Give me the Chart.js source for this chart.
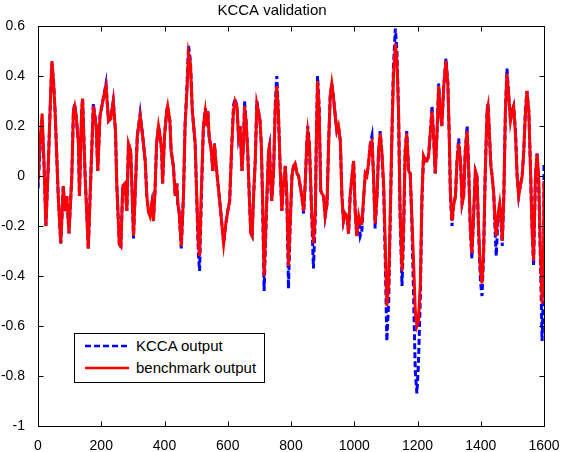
<!DOCTYPE html>
<html>
<head>
<meta charset="utf-8">
<title>KCCA validation</title>
<script src="https://cdn.jsdelivr.net/npm/chart.js@4.4.1/dist/chart.umd.min.js"></script>
<style>
  body { margin: 0; background: #fff; }
  #wrap { position: relative; width: 579px; height: 452px; }
  .legend {
    position: absolute; left: 74px; top: 333px; width: 189px; height: 48px;
    border: 1px solid #000; background: #fff;
    font-family: 'Liberation Sans', Arial, sans-serif; font-size: 15px; color: #000;
  }
  .legend svg { position: absolute; left: 10px; }
  .legend span { position: absolute; left: 61px; line-height: 18px; }
</style>
</head>
<body>
<div id="wrap">
  <canvas id="chart" width="579" height="452"></canvas>
  <div class="legend">
    <svg style="top:8px" width="44" height="8"><line x1="0" y1="4" x2="44" y2="4" stroke="#0000ff" stroke-width="2.5" stroke-dasharray="6,3"/></svg>
    <span style="top:3px">KCCA output</span>
    <svg style="top:30px" width="44" height="8"><line x1="0" y1="4" x2="44" y2="4" stroke="#ff0000" stroke-width="2.5"/></svg>
    <span style="top:25px">benchmark output</span>
  </div>
</div>
<script>
// sample index along the validation set
const sampleIdx = [
  0, 7, 13, 19, 25, 33, 40, 44, 49, 54, 64, 72, 80, 85, 91, 98, 107, 112, 116, 120,
  128, 131, 138, 141, 149, 159, 167, 175, 184, 189, 196, 205, 215, 223, 230, 238, 245, 249, 257, 262,
  268, 275, 281, 286, 293, 298, 302, 307, 314, 323, 331, 339, 344, 349, 354, 360, 365, 370, 375, 381,
  386, 391, 394, 400, 407, 410, 417, 421, 428, 434, 439, 442, 446, 453, 460, 465, 471, 476, 482, 488,
  497, 502, 507, 511, 516, 523, 529, 534, 537, 541, 548, 553, 558, 562, 569, 573, 579, 587, 594, 600,
  606, 612, 618, 623, 629, 634, 639, 645, 650, 653, 658, 663, 669, 673, 677, 682, 687, 692, 697, 702,
  706, 710, 715, 722, 729, 732, 736, 739, 745, 750, 755, 760, 766, 771, 776, 782, 787, 792, 797, 803,
  808, 813, 819, 824, 829, 834, 840, 845, 850, 853, 858, 861, 866, 871, 877, 880, 884, 889, 894, 898,
  903, 908, 914, 919, 924, 929, 934, 940, 945, 950, 956, 961, 966, 971, 977, 982, 987, 993, 998, 1003,
  1008, 1014, 1019, 1024, 1030, 1035, 1040, 1045, 1051, 1056, 1061, 1066, 1072, 1077, 1082, 1087, 1093, 1098, 1103, 1109,
  1114, 1119, 1124, 1130, 1135, 1140, 1145, 1151, 1156, 1161, 1166, 1172, 1177, 1182, 1188, 1193, 1198, 1203, 1209, 1214,
  1219, 1225, 1230, 1235, 1241, 1246, 1251, 1256, 1262, 1267, 1272, 1277, 1283, 1290, 1296, 1301, 1304, 1309, 1314, 1320,
  1325, 1330, 1336, 1341, 1346, 1351, 1357, 1362, 1367, 1372, 1378, 1383, 1388, 1393, 1399, 1404, 1409, 1414, 1420, 1423,
  1427, 1432, 1436, 1441, 1446, 1449, 1454, 1460, 1464, 1468, 1473, 1478, 1483, 1488, 1494, 1499, 1504, 1510, 1515, 1520,
  1525, 1531, 1536, 1541, 1546, 1552, 1557, 1562, 1567, 1573, 1578, 1583, 1588, 1594, 1599, 1600
];

const kccaOutput = [
  -0.05, 0.12, 0.22, 0.05, -0.20, 0.06, 0.33, 0.45, 0.38, 0.26, -0.08, -0.27, -0.04, -0.14, -0.08, -0.23, 0.00, 0.26, 0.29, 0.25,
  0.13, -0.08, 0.26, 0.31, 0.00, -0.29, 0.00, 0.29, 0.20, 0.02, 0.24, 0.30, 0.37, 0.22, 0.23, 0.30, 0.18, -0.03, -0.27, -0.29,
  -0.04, -0.03, -0.14, 0.13, 0.10, -0.08, -0.25, -0.08, 0.16, 0.25, 0.16, 0.06, -0.08, -0.14, -0.16, -0.11, -0.18, -0.06, 0.13, 0.20,
  0.16, 0.10, -0.03, 0.16, 0.26, 0.28, 0.22, 0.10, 0.04, -0.08, -0.03, -0.11, -0.14, -0.29, -0.08, 0.20, 0.36, 0.52, 0.46, 0.26,
  0.13, -0.10, -0.31, -0.38, -0.12, 0.20, 0.27, 0.20, 0.26, 0.16, 0.10, 0.02, 0.13, 0.06, -0.03, -0.08, -0.16, -0.27, -0.19, -0.14,
  -0.10, 0.10, 0.28, 0.31, 0.28, 0.16, 0.20, 0.02, 0.13, 0.30, 0.22, 0.10, -0.11, -0.23, -0.24, -0.07, 0.06, 0.30, 0.26, 0.22,
  0.13, -0.10, -0.46, -0.16, 0.10, 0.12, -0.03, -0.10, 0.02, 0.28, 0.40, 0.26, 0.02, -0.14, -0.03, 0.04, -0.10, -0.45, -0.22, 0.00,
  0.04, 0.05, 0.01, 0.00, -0.04, -0.08, -0.15, -0.03, 0.13, 0.20, 0.13, 0.02, -0.18, -0.37, -0.16, 0.13, 0.40, 0.28, -0.06, -0.07,
  -0.08, -0.16, -0.11, 0.13, 0.32, 0.37, 0.32, 0.24, 0.18, 0.20, 0.14, -0.08, -0.18, -0.15, -0.16, -0.23, -0.08, 0.00, 0.06, -0.14,
  -0.24, -0.16, -0.24, -0.22, -0.08, 0.01, 0.00, 0.05, 0.13, 0.16, 0.00, -0.21, -0.08, 0.10, 0.18, 0.10, -0.05, -0.33, -0.66, -0.50,
  -0.16, 0.16, 0.44, 0.59, 0.50, 0.26, -0.16, -0.44, -0.24, 0.10, 0.18, 0.02, 0.01, -0.18, -0.50, -0.78, -0.87, -0.75, -0.48, -0.10,
  0.08, 0.06, 0.06, 0.08, 0.18, 0.28, 0.16, 0.01, 0.18, 0.37, 0.26, 0.20, 0.36, 0.47, 0.37, 0.13, -0.08, -0.20, -0.12, -0.08,
  0.06, 0.15, 0.06, -0.11, -0.08, 0.10, 0.20, 0.02, -0.22, -0.33, -0.14, 0.02, 0.00, -0.22, -0.42, -0.48, -0.32, 0.00, 0.26, 0.29,
  0.18, 0.04, 0.00, -0.07, -0.24, -0.32, -0.18, -0.11, -0.18, -0.28, -0.08, 0.26, 0.43, 0.33, 0.22, 0.26, 0.28, 0.18, 0.00, -0.08,
  -0.04, 0.00, 0.10, 0.26, 0.34, 0.26, 0.04, -0.20, -0.36, 0.00, 0.09, -0.02, -0.30, -0.66, -0.40, 0.05
];

const benchmarkOutput = [
  -0.03, 0.15, 0.25, 0.05, -0.20, 0.06, 0.33, 0.46, 0.38, 0.26, -0.08, -0.27, -0.04, -0.14, -0.08, -0.23, 0.00, 0.26, 0.28, 0.25,
  0.13, -0.08, 0.26, 0.31, 0.00, -0.29, 0.00, 0.28, 0.20, 0.02, 0.24, 0.30, 0.36, 0.22, 0.23, 0.30, 0.18, -0.03, -0.27, -0.28,
  -0.04, -0.03, -0.14, 0.13, 0.10, -0.08, -0.24, -0.08, 0.16, 0.24, 0.16, 0.06, -0.08, -0.14, -0.16, -0.11, -0.18, -0.06, 0.13, 0.20,
  0.16, 0.10, -0.03, 0.16, 0.26, 0.28, 0.22, 0.10, 0.04, -0.08, -0.03, -0.11, -0.14, -0.28, -0.08, 0.20, 0.34, 0.49, 0.45, 0.26,
  0.13, -0.08, -0.27, -0.32, -0.08, 0.20, 0.26, 0.20, 0.26, 0.16, 0.10, 0.02, 0.13, 0.06, -0.03, -0.08, -0.16, -0.27, -0.19, -0.14,
  -0.10, 0.10, 0.26, 0.30, 0.28, 0.16, 0.20, 0.02, 0.13, 0.28, 0.22, 0.10, -0.11, -0.23, -0.24, -0.07, 0.06, 0.29, 0.26, 0.22,
  0.13, -0.08, -0.40, -0.14, 0.10, 0.12, -0.03, -0.10, 0.02, 0.26, 0.36, 0.26, 0.02, -0.14, -0.03, 0.04, -0.08, -0.36, -0.20, 0.00,
  0.04, 0.05, 0.01, 0.00, -0.04, -0.08, -0.14, -0.03, 0.13, 0.18, 0.13, 0.02, -0.16, -0.27, -0.14, 0.13, 0.38, 0.26, -0.06, -0.07,
  -0.08, -0.16, -0.11, 0.13, 0.32, 0.37, 0.32, 0.24, 0.18, 0.20, 0.14, -0.08, -0.18, -0.15, -0.16, -0.23, -0.08, 0.00, 0.06, -0.14,
  -0.24, -0.16, -0.19, -0.19, -0.08, 0.01, 0.00, 0.05, 0.13, 0.14, 0.00, -0.19, -0.08, 0.10, 0.17, 0.10, -0.03, -0.27, -0.52, -0.43,
  -0.14, 0.16, 0.40, 0.53, 0.46, 0.26, -0.14, -0.38, -0.20, 0.10, 0.17, 0.02, 0.01, -0.16, -0.36, -0.54, -0.60, -0.58, -0.43, -0.08,
  0.08, 0.06, 0.06, 0.08, 0.18, 0.26, 0.16, 0.01, 0.18, 0.36, 0.26, 0.20, 0.36, 0.46, 0.37, 0.13, -0.06, -0.18, -0.12, -0.08,
  0.06, 0.13, 0.06, -0.11, -0.08, 0.10, 0.18, 0.02, -0.20, -0.31, -0.14, 0.02, 0.00, -0.20, -0.38, -0.43, -0.30, 0.00, 0.26, 0.28,
  0.18, 0.04, 0.00, -0.07, -0.20, -0.24, -0.16, -0.11, -0.16, -0.26, -0.08, 0.26, 0.41, 0.33, 0.22, 0.26, 0.28, 0.16, 0.00, -0.08,
  -0.04, 0.00, 0.10, 0.24, 0.34, 0.26, 0.04, -0.20, -0.34, 0.00, 0.09, 0.00, -0.27, -0.51, -0.27, -0.02
];

const xRange = [0, 1600];
const yRange = [-1, 0.6];

const FONT = "'Liberation Sans', Arial, sans-serif";

// MATLAB style box with inward ticks on all four sides
const boxPlugin = {
  id: 'box',
  afterDraw(chart) {
    const { ctx, chartArea: a, scales: { x, y } } = chart;
    const L = Math.round(a.left) + 0.5, R = Math.round(a.right) + 0.5;
    const T = Math.round(a.top) + 0.5, B = Math.round(a.bottom) + 0.5;
    ctx.save();
    ctx.strokeStyle = '#000';
    ctx.lineWidth = 1;
    ctx.strokeRect(L, T, R - L, B - T);
    ctx.beginPath();
    x.ticks.forEach(t => {
      const px = Math.round(x.getPixelForValue(t.value)) + 0.5;
      ctx.moveTo(px, B); ctx.lineTo(px, B - 5);
      ctx.moveTo(px, T); ctx.lineTo(px, T + 5);
    });
    y.ticks.forEach(t => {
      const py = Math.round(y.getPixelForValue(t.value)) + 0.5;
      ctx.moveTo(L, py); ctx.lineTo(L + 5, py);
      ctx.moveTo(R, py); ctx.lineTo(R - 5, py);
    });
    ctx.stroke();
    ctx.restore();
  }
};

new Chart(document.getElementById('chart'), {
  type: 'line',
  data: {
    labels: sampleIdx,
    datasets: [
      {
        label: 'KCCA output',
        data: sampleIdx.map((v, i) => ({ x: v, y: kccaOutput[i] })),
        borderColor: '#0000ff',
        borderWidth: 3,
        borderDash: [6, 3],
        pointRadius: 0,
        tension: 0,
        order: 1
      },
      {
        label: 'benchmark output',
        data: sampleIdx.map((v, i) => ({ x: v, y: benchmarkOutput[i] })),
        borderColor: '#ff0000',
        borderWidth: 3,
        pointRadius: 0,
        tension: 0,
        order: 0
      }
    ]
  },
  options: {
    responsive: false,
    animation: false,
    devicePixelRatio: 1,
    layout: { padding: { left: 0, right: 35, top: 0, bottom: 0 } },
    plugins: {
      legend: { display: false },
      tooltip: { enabled: false },
      title: {
        display: true,
        text: 'KCCA validation',
        color: '#000',
        font: { family: FONT, size: 15, weight: 'normal' },
        padding: { top: 2, bottom: 6 }
      }
    },
    scales: {
      x: {
        type: 'linear',
        min: xRange[0],
        max: xRange[1],
        ticks: {
          stepSize: 200, color: '#000', padding: 4, maxRotation: 0, font: { family: FONT, size: 14 },
          callback: v => String(v)
        },
        grid: { display: false },
        border: { display: false },
        afterFit(scale) { scale.height = 26; }
      },
      y: {
        min: yRange[0],
        max: yRange[1],
        ticks: {
          stepSize: 0.2, color: '#000', padding: 5, font: { family: FONT, size: 14 },
          callback: v => String(Math.round(v * 10) / 10)
        },
        grid: { display: false },
        border: { display: false },
        afterFit(scale) { scale.width = 38; }
      }
    }
  },
  plugins: [boxPlugin]
});
</script>
</body>
</html>
